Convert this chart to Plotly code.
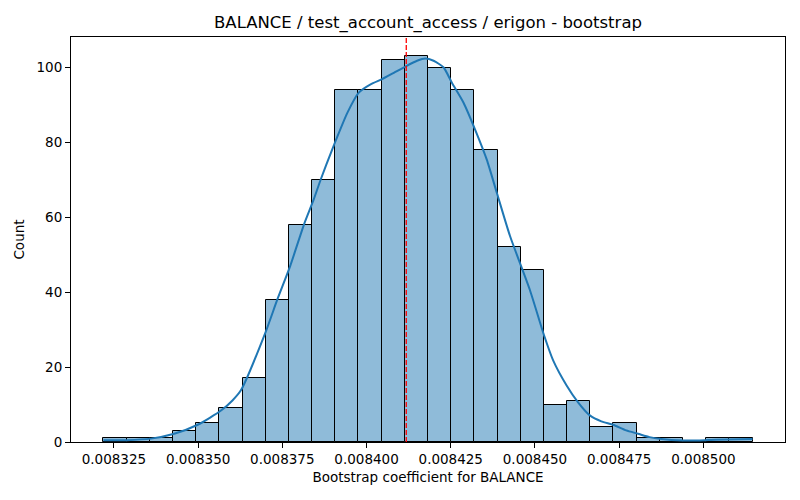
import numpy as np
import plotly.graph_objects as go

# histogram of bootstrap coefficients (28 equal bins)
bin_start = 0.0083219
bin_end = 0.0085146
counts = [1, 1, 1, 3, 5, 9, 17, 38, 58, 70, 94, 94, 102, 103,
          100, 94, 78, 52, 46, 10, 11, 4, 5, 1, 1, 0, 1, 1]

# kde curve (in count units)
kde_x = [0.0083219, 0.0083289, 0.0083360, 0.0083429, 0.0083499, 0.0083568,
         0.0083602, 0.0083627, 0.0083701, 0.0083735, 0.0083773, 0.0083814,
         0.0083843, 0.0083864, 0.0083898, 0.0083910, 0.0083943, 0.0083977,
         0.0084012, 0.0084046, 0.0084081, 0.0084118, 0.0084150, 0.0084174,
         0.0084199, 0.0084229, 0.0084253, 0.0084288, 0.0084322, 0.0084357,
         0.0084387, 0.0084426, 0.0084485, 0.0084527, 0.0084554, 0.0084594,
         0.0084628, 0.0084663, 0.0084697, 0.0084732, 0.0084771, 0.0084806,
         0.0084840, 0.0084875, 0.0084939, 0.0084988, 0.0085038, 0.0085146]
kde_y = [0.5, 0.5, 0.9, 2.2, 4.6, 8.4,
         11.1, 13.8, 29.5, 38, 46.9, 58,
         64.7, 70.1, 78.1, 80.8, 87.9, 93.3,
         95.5, 96.9, 98.6, 100.4, 101.8, 102.4,
         101.8, 100, 96, 90.6, 83.5, 75.4,
         66.5, 55, 40.6, 28.5, 21.8, 15.1,
         10.6, 7.1, 5.5, 4.6, 3.1, 2.2,
         1.3, 0.8, 0.4, 0.4, 0.6, 0.8]

point_estimate = 0.0084118

x_ticks = [0.008325, 0.008350, 0.008375, 0.008400, 0.008425, 0.008450, 0.008475, 0.008500]
y_ticks = [0, 20, 40, 60, 80, 100]

edges = np.linspace(bin_start, bin_end, len(counts) + 1)
centers = (edges[:-1] + edges[1:]) / 2
width = edges[1] - edges[0]

fig = go.Figure()

fig.add_trace(go.Bar(
    x=centers, y=counts, width=width,
    marker=dict(color="rgba(31,119,180,0.5)", line=dict(color="black", width=1)),
    hoverinfo="x+y"))

fig.add_trace(go.Scatter(
    x=kde_x, y=kde_y, mode="lines",
    line=dict(color="#1f77b4", width=2, shape="spline", smoothing=0.6)))

fig.add_shape(type="line", x0=point_estimate, x1=point_estimate, y0=0, y1=1,
              xref="x", yref="paper",
              line=dict(color="red", width=1.3, dash="5px,2px"))

span = bin_end - bin_start
fig.update_layout(
    width=800, height=500,
    margin=dict(l=71, r=15, t=37, b=58),
    plot_bgcolor="white", paper_bgcolor="white",
    showlegend=False, bargap=0,
    font=dict(family="DejaVu Sans", size=14, color="black"),
    title=dict(text="BALANCE / test_account_access / erigon - bootstrap",
               x=0.5, xanchor="center", xref="paper", y=0.955, yanchor="middle",
               font=dict(size=16.5)),
    xaxis=dict(range=[bin_start - 0.05 * span, bin_end + 0.05 * span],
               tickvals=x_ticks, tickformat=".6f", tickfont=dict(size=13.5),
               ticks="outside", ticklen=5, tickcolor="black",
               showline=True, linecolor="black", linewidth=1, mirror=True,
               showgrid=False, zeroline=False,
               title=dict(text="Bootstrap coefficient for BALANCE", standoff=6,
                          font=dict(size=13.5))),
    yaxis=dict(range=[0, 103 * 1.05], tickvals=y_ticks, tickfont=dict(size=13.5),
               ticks="outside", ticklen=5, tickcolor="black",
               showline=True, linecolor="black", linewidth=1, mirror=True,
               showgrid=False, zeroline=False,
               title=dict(text="Count", standoff=8, font=dict(size=13.5))),
)

fig.write_html("out.html", config={"displayModeBar": False},
               post_script="document.body.style.margin='0';")
